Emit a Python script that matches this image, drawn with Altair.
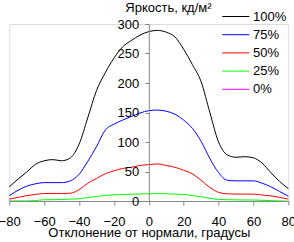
import altair as alt
import pandas as pd

# Viewing angle, degrees
angles = [-80, -75, -70, -65, -60, -55, -50, -45, -40, -35, -30, -25, -20, -15, -10, -5,
          0, 5, 10, 15, 20, 25, 30, 35, 40, 45, 50, 55, 60, 65, 70, 75, 80]

# Luminance, cd/m2, per brightness setting
lum_100 = [25, 38, 50, 63, 69, 71, 69, 74, 97, 142, 188, 218, 243, 262, 273, 282,
           288, 290, 287, 279, 258, 232, 203, 151, 101, 79, 75, 76, 74, 65, 49, 34, 22]
lum_75 = [10, 19, 26, 30, 32, 32, 32, 35, 46, 68, 93, 121, 131, 138, 144, 150,
          154, 155, 153, 148, 138, 124, 102, 73, 49, 36, 35, 35, 35, 31, 25, 17, 9]
lum_50 = [4, 7, 10, 12, 13.6, 13.6, 13.6, 14, 20, 31, 39, 47, 52, 56, 58, 61,
          62.5, 63.6, 61, 58, 53, 47, 36, 24, 15.5, 13, 12.6, 12.6, 12.6, 11, 9.5, 7, 4]
lum_25 = [1, 1, 1, 1.5, 3, 3, 3.5, 4, 4.5, 7, 8.5, 10, 11.3, 12, 12.3, 12.8,
          13, 13.5, 13, 12.5, 12, 10, 8, 5.5, 3.5, 3, 2.8, 2.6, 2.5, 2, 1.5, 1, 0.5]
lum_0 = [0] * len(angles)

series_names = ["100%", "75%", "50%", "25%", "0%"]
series_values = [lum_100, lum_75, lum_50, lum_25, lum_0]
series_colors = ["#000000", "#0000ff", "#ff0000", "#00ff00", "#ff00ff"]

x_ticks = [-80, -60, -40, -20, 0, 20, 40, 60, 80]
y_ticks = [0, 50, 100, 150, 200, 250, 300]

y_label = "Яркость, кд/м²"
x_label = "Отклонение от нормали, градусы"

rows = []
for name, vals in zip(series_names, series_values):
    for a, v in zip(angles, vals):
        rows.append({"angle": a, "lum": v, "level": name})
df = pd.DataFrame(rows)

FONT = "Liberation Sans"

lines = alt.Chart(df).mark_line(strokeWidth=1, interpolate="monotone", yOffset=0.5).encode(
    x=alt.X("angle:Q",
            scale=alt.Scale(domain=[-80, 80], nice=False, zero=False),
            axis=alt.Axis(values=x_ticks, title=x_label,
                          tickSize=4, labelPadding=10, labelFontSize=13,
                          titleFontSize=13, titleFontWeight="normal", titlePadding=-2,
                          labelFlush=False, grid=False, zindex=1)),
    y=alt.Y("lum:Q",
            scale=alt.Scale(domain=[0, 300], nice=False),
            axis=alt.Axis(values=y_ticks, title=None, offset=-139.5,
                          tickSize=4, labelPadding=6, labelFontSize=13,
                          grid=False, zindex=1)),
    color=alt.Color("level:N",
                    scale=alt.Scale(domain=series_names, range=series_colors),
                    sort=series_names,
                    legend=alt.Legend(orient="none", legendX=219, legendY=-15,
                                      title=None, symbolType="M-2,0H2",
                                      symbolSize=182.25, symbolStrokeWidth=1,
                                      labelFontSize=13, labelOffset=9.75,
                                      rowPadding=3.2, labelColor="black")),
    order=alt.Order("level:N", sort="descending"),
)

# Quantity label above the vertical axis
caption = alt.Chart(pd.DataFrame({"t": [y_label]})).mark_text(
    align="left", baseline="alphabetic", fontSize=13, font=FONT, color="black"
).encode(text="t:N", x=alt.value(116), y=alt.value(-12))

chart = alt.layer(lines, caption).properties(
    width=279,
    height=177,
    autosize=alt.AutoSizeParams(type="none"),
    padding={"left": 9.3, "top": 24, "right": 5.7, "bottom": 41},
).configure_view(
    stroke=None
).configure_axis(
    labelFont=FONT, titleFont=FONT, labelColor="black", titleColor="black",
    domainColor="black", tickColor="black", domainWidth=1, tickWidth=1
).configure_legend(
    labelFont=FONT
).configure(background="white")

chart.save("out.html", embed_options={"renderer": "svg", "actions": False})
